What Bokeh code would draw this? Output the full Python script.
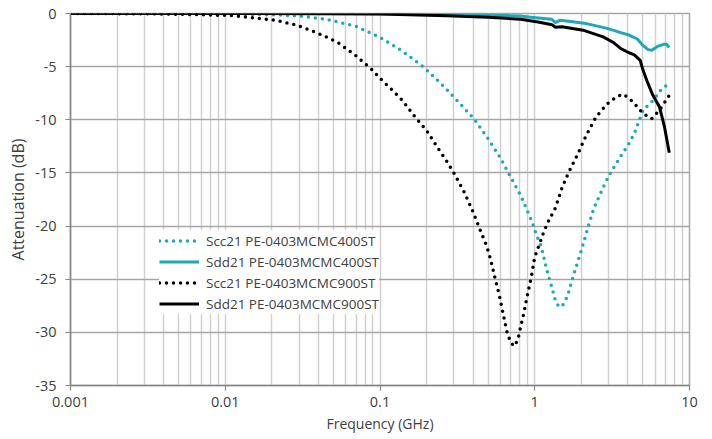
from bokeh.plotting import figure
from bokeh.models import (Range1d, FixedTicker, CustomJSTickFormatter, Legend, LegendItem)
from bokeh.embed import file_html
from bokeh.resources import INLINE

# ---- data ----
x_ticks = [0.001, 0.01, 0.1, 1, 10]
x_tick_labels = ["0.001", "0.01", "0.1", "1", "10"]
y_ticks = [-35, -30, -25, -20, -15, -10, -5, 0]
y_tick_labels = ["-35", "-30", "-25", "-20", "-15", "-10", "-5", "0"]

series_names = ["Scc21 PE-0403MCMC400ST", "Sdd21 PE-0403MCMC400ST",
                "Scc21 PE-0403MCMC900ST", "Sdd21 PE-0403MCMC900ST"]

freq_scc400 = [0.001, 0.003, 0.01, 0.02, 0.03, 0.045, 0.07, 0.1, 0.135, 0.19, 0.26, 0.33,
               0.41, 0.5, 0.6, 0.73, 0.81, 0.88, 0.96, 1.03, 1.1, 1.2, 1.28, 1.36, 1.43,
               1.51, 1.58, 1.65, 1.8, 2.0, 2.2, 2.4, 2.7, 3.0, 3.3, 3.6, 4.0, 4.4, 5.0,
               5.8, 6.6, 7.2]
scc400 = [0.0, -0.01, -0.05, -0.12, -0.22, -0.55, -1.2, -2.25, -3.4, -5.0, -6.9, -8.5,
          -10.0, -11.8, -13.6, -15.9, -17.1, -18.3, -19.6, -20.9, -21.9, -24.2, -25.6,
          -27.0, -27.6, -27.5, -27.0, -26.3, -24.4, -22.3, -20.2, -18.4, -16.7, -15.3,
          -14.3, -13.4, -12.4, -11.3, -9.1, -8.2, -7.1, -6.7]

freq_sdd400 = [0.001, 0.01, 0.1, 0.3, 0.45, 0.7, 0.81, 0.94, 1.1, 1.29, 1.36, 1.46, 1.7,
               2.16, 2.94, 3.6, 4.1, 4.6, 5.0, 5.4, 5.7, 6.2, 6.8, 7.1, 7.4]
sdd400 = [0.0, 0.0, -0.02, -0.08, -0.15, -0.2, -0.24, -0.35, -0.45, -0.55, -0.85, -0.63,
          -0.75, -0.95, -1.4, -1.8, -2.05, -2.4, -3.0, -3.4, -3.45, -3.1, -2.9, -2.9, -3.2]

freq_scc900 = [0.001, 0.003, 0.007, 0.011, 0.015, 0.021, 0.029, 0.039, 0.053, 0.069, 0.089,
               0.1, 0.12, 0.14, 0.17, 0.2, 0.235, 0.27, 0.3, 0.35, 0.4, 0.45, 0.49, 0.52,
               0.56, 0.59, 0.63, 0.66, 0.7, 0.74, 0.78, 0.81, 0.85, 0.89, 0.95, 1.0, 1.09,
               1.14, 1.22, 1.36, 1.5, 1.65, 1.9, 2.16, 2.5, 2.94, 3.4, 3.75, 4.3, 5.0, 5.7,
               6.4, 7.4]
scc900 = [0.0, -0.02, -0.1, -0.2, -0.4, -0.63, -1.1, -1.8, -2.7, -3.9, -5.3, -6.1, -7.2,
          -8.2, -9.8, -11.0, -12.6, -13.9, -15.0, -16.8, -18.7, -20.6, -21.9, -23.2, -25.2,
          -26.5, -28.5, -29.9, -31.0, -31.3, -30.6, -29.5, -28.2, -26.7, -24.8, -22.9,
          -21.4, -20.6, -19.6, -18.3, -16.4, -15.0, -13.2, -11.4, -9.7, -8.5, -7.8, -7.6,
          -8.3, -9.4, -9.9, -9.1, -7.7]

freq_sdd900 = [0.001, 0.01, 0.05, 0.1, 0.27, 0.5, 0.81, 1.05, 1.29, 1.36, 1.5, 2.05, 2.77,
               3.2, 3.6, 3.95, 4.4, 4.8, 5.0, 5.3, 5.8, 6.4, 6.9, 7.4]
sdd900 = [0.0, 0.0, -0.02, -0.05, -0.2, -0.35, -0.54, -0.8, -1.05, -1.3, -1.25, -1.57, -2.2,
          -2.7, -3.3, -3.6, -3.9, -4.4, -5.3, -6.3, -7.7, -8.8, -10.7, -13.1]

# ---- styling ----
TEAL = "#1FA8B8"
BLACK = "#000000"
FONT = "Open Sans"
TXT = "#404040"

minor_x = [m * d for d in x_ticks[:-1] for m in range(2, 10)]

p = figure(width=712, height=439, x_axis_type="log",
           x_range=Range1d(0.001, 10), y_range=Range1d(-35, 0),
           output_backend="svg", toolbar_location=None,
           min_border_left=70, min_border_right=23, min_border_top=13, min_border_bottom=54)

p.background_fill_color = "white"
p.border_fill_color = "white"
p.outline_line_color = "#A6A6A6"
p.outline_line_width = 1.5

# axes
p.xaxis.ticker = FixedTicker(ticks=x_ticks, minor_ticks=minor_x)
p.xaxis.formatter = CustomJSTickFormatter(
    args=dict(vals=x_ticks, labels=x_tick_labels),
    code="""
    for (let i = 0; i < vals.length; i++) {
        if (Math.abs(Math.log10(vals[i]) - Math.log10(tick)) < 1e-6) return labels[i];
    }
    return "";
    """)
p.yaxis.ticker = FixedTicker(ticks=y_ticks)
p.yaxis.formatter = CustomJSTickFormatter(
    args=dict(vals=y_ticks, labels=y_tick_labels),
    code="""
    for (let i = 0; i < vals.length; i++) {
        if (Math.abs(vals[i] - tick) < 1e-6) return labels[i];
    }
    return "";
    """)

for ax in (p.xaxis[0], p.yaxis[0]):
    ax.axis_line_color = "#868686"
    ax.axis_line_width = 1.5
    ax.major_tick_line_color = "#868686"
    ax.major_tick_line_width = 1.2
    ax.major_tick_in = 0
    ax.minor_tick_in = 0
    ax.minor_tick_out = 0
    ax.minor_tick_line_color = None
    ax.major_label_text_font = FONT
    ax.major_label_text_font_size = "14.5px"
    ax.major_label_text_color = TXT
    ax.axis_label_text_font = FONT
    ax.axis_label_text_font_style = "normal"
    ax.axis_label_text_color = TXT

p.xaxis.major_tick_out = 5
p.xaxis.major_label_standoff = 6
p.xaxis.axis_label = "Frequency (GHz)"
p.xaxis.axis_label_text_font_size = "14px"
p.xaxis.axis_label_standoff = 4

p.yaxis.major_tick_out = 5
p.yaxis.major_label_standoff = 9
p.yaxis.axis_label = "Attenuation (dB)"
p.yaxis.axis_label_text_font_size = "16px"
p.yaxis.axis_label_standoff = 3

# grids
p.ygrid.ticker = FixedTicker(ticks=y_ticks)
p.ygrid.grid_line_color = "#A6A6A6"
p.ygrid.grid_line_width = 1.5
p.xgrid.ticker = FixedTicker(ticks=x_ticks, minor_ticks=minor_x)
p.xgrid.grid_line_color = "#D0D0D0"
p.xgrid.grid_line_width = 1.5
p.xgrid.minor_grid_line_color = "#D0D0D0"
p.xgrid.minor_grid_line_width = 1.5

# lines
r1 = p.line(freq_scc400, scc400, line_color=TEAL, line_width=3.5,
            line_dash="0 7", line_cap="round", line_join="round")
r2 = p.line(freq_sdd400, sdd400, line_color=TEAL, line_width=3,
            line_join="round")
r3 = p.line(freq_scc900, scc900, line_color=BLACK, line_width=3.5,
            line_dash="0 7", line_cap="round", line_join="round")
r4 = p.line(freq_sdd900, sdd900, line_color=BLACK, line_width=3,
            line_join="round")

legend = Legend(items=[LegendItem(label=series_names[0], renderers=[r1]),
                       LegendItem(label=series_names[1], renderers=[r2]),
                       LegendItem(label=series_names[2], renderers=[r3]),
                       LegendItem(label=series_names[3], renderers=[r4])],
                location=(89, 71), margin=0, padding=4, spacing=0,
                glyph_width=40, glyph_height=21, label_height=21,
                label_standoff=7, label_text_font=FONT, label_text_font_size="13.5px",
                label_text_color=TXT, border_line_color=None,
                background_fill_color="white", background_fill_alpha=1.0)
p.add_layout(legend)

open("out.html", "w").write(file_html(p, INLINE))
